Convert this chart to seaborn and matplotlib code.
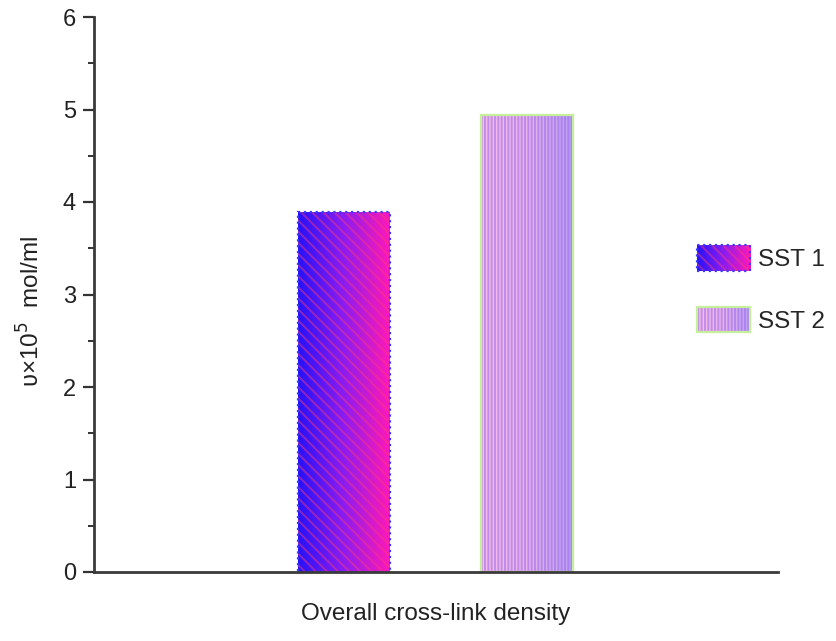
import numpy as np
import pandas as pd
import matplotlib
matplotlib.use("Agg")
import matplotlib.pyplot as plt
import seaborn as sns
from matplotlib.colors import LinearSegmentedColormap, to_rgba
from matplotlib.patches import Rectangle
from matplotlib.image import BboxImage
from matplotlib.transforms import Bbox, TransformedBbox
from matplotlib.legend_handler import HandlerBase
from matplotlib.ticker import MultipleLocator

# Cross-link density of the two samples (x10^5 mol/ml)
samples = ["SST 1", "SST 2"]
density = [3.89, 4.94]
category = "Overall cross-link density"

# Fill styling per sample
gradients = [["#2612f8", "#8c1cf0", "#ff18b8"], ["#f4bee4", "#e8b4e8", "#b8a0f0"]]
hatches = ["\\\\\\", "|||||"]
hatch_colors = [to_rgba("#ff3a7a", 0.45), to_rgba("#9c68ee", 0.55)]
edge_colors = ["#3a3aff", "#c6ef9c"]
edge_styles = [":", "-"]

sns.set_theme(style="ticks")
plt.rcParams["font.family"] = ["Liberation Sans", "DejaVu Sans"]
plt.rcParams["hatch.linewidth"] = 1.4

fig = plt.figure(figsize=(8.37, 6.41), dpi=100)
ax = fig.add_axes([94 / 837, 1 - 572 / 641, (778 - 94) / 837, (572 - 17) / 641])

df = pd.DataFrame({"sample": samples, "density": density})
sns.barplot(data=df, x="sample", y="density", hue="sample", width=0.5,
            dodge=False, legend=False, ax=ax, palette=["#ffffff", "#ffffff"])

grad = np.linspace(0, 1, 256).reshape(1, -1)
cmaps = [LinearSegmentedColormap.from_list(f"g{i}", g) for i, g in enumerate(gradients)]

for i, patch in enumerate(ax.patches[:len(samples)]):
    x0, y0 = patch.get_x(), patch.get_y()
    w, h = patch.get_width(), patch.get_height()
    patch.set_facecolor("none")
    patch.set_edgecolor("none")
    im = ax.imshow(grad, cmap=cmaps[i], aspect="auto", extent=[x0, x0 + w, y0, y0 + h],
                   interpolation="bicubic", zorder=1.5)
    im.set_clip_path(patch)
    ax.add_patch(Rectangle((x0, y0), w, h, facecolor="none", edgecolor=hatch_colors[i],
                           hatch=hatches[i], lw=0, zorder=2))
    ax.add_patch(Rectangle((x0, y0), w, h, fill=False, edgecolor=edge_colors[i],
                           ls=edge_styles[i], lw=1.6, zorder=2.1))

ax.set_xlim(-1.36, 2.365)
ax.set_ylim(0, 6)
ax.set_xticks([])
ax.yaxis.set_major_locator(MultipleLocator(1))
ax.yaxis.set_minor_locator(MultipleLocator(0.5))
ax.tick_params(axis="y", which="major", length=8, width=1.6, color="#333333",
               labelsize=17, labelcolor="#222222", pad=5)
ax.tick_params(axis="y", which="minor", length=4, width=1.4, color="#333333")
for s in ["top", "right"]:
    ax.spines[s].set_visible(False)
for s in ["left", "bottom"]:
    ax.spines[s].set_linewidth(2)
    ax.spines[s].set_color("#3a3a3a")

ax.set_xlabel(category, fontsize=17.5, color="#222222", labelpad=22)
ax.set_ylabel("ʋ×10$^{5}$  mol/ml", fontsize=17.5, color="#222222")
ax.yaxis.set_label_coords(-0.072, 0.47)


class GradientHandler(HandlerBase):
    def __init__(self, idx):
        super().__init__()
        self.idx = idx

    def create_artists(self, legend, orig_handle, xdescent, ydescent, width, height,
                       fontsize, trans):
        i = self.idx
        bb = TransformedBbox(Bbox.from_bounds(-xdescent, -ydescent, width, height), trans)
        img = BboxImage(bb, cmap=cmaps[i], interpolation="bicubic")
        img.set_data(grad)
        hr = Rectangle((-xdescent, -ydescent), width, height, facecolor="none",
                       edgecolor=hatch_colors[i], hatch=hatches[i], lw=0, transform=trans)
        er = Rectangle((-xdescent, -ydescent), width, height, fill=False,
                       edgecolor=edge_colors[i], ls=edge_styles[i], lw=1.6, transform=trans)
        return [img, hr, er]


handles = [Rectangle((0, 0), 1, 1) for _ in samples]
fig.legend(handles, samples, handler_map={h: GradientHandler(i) for i, h in enumerate(handles)},
           loc="center left", bbox_to_anchor=(697 / 837, 1 - 289 / 641), frameon=False,
           fontsize=17.5, handlelength=2.2, handleheight=1.25, labelspacing=1.45,
           handletextpad=0.3, borderpad=0, borderaxespad=0)

fig.savefig("out.png", dpi=100)
